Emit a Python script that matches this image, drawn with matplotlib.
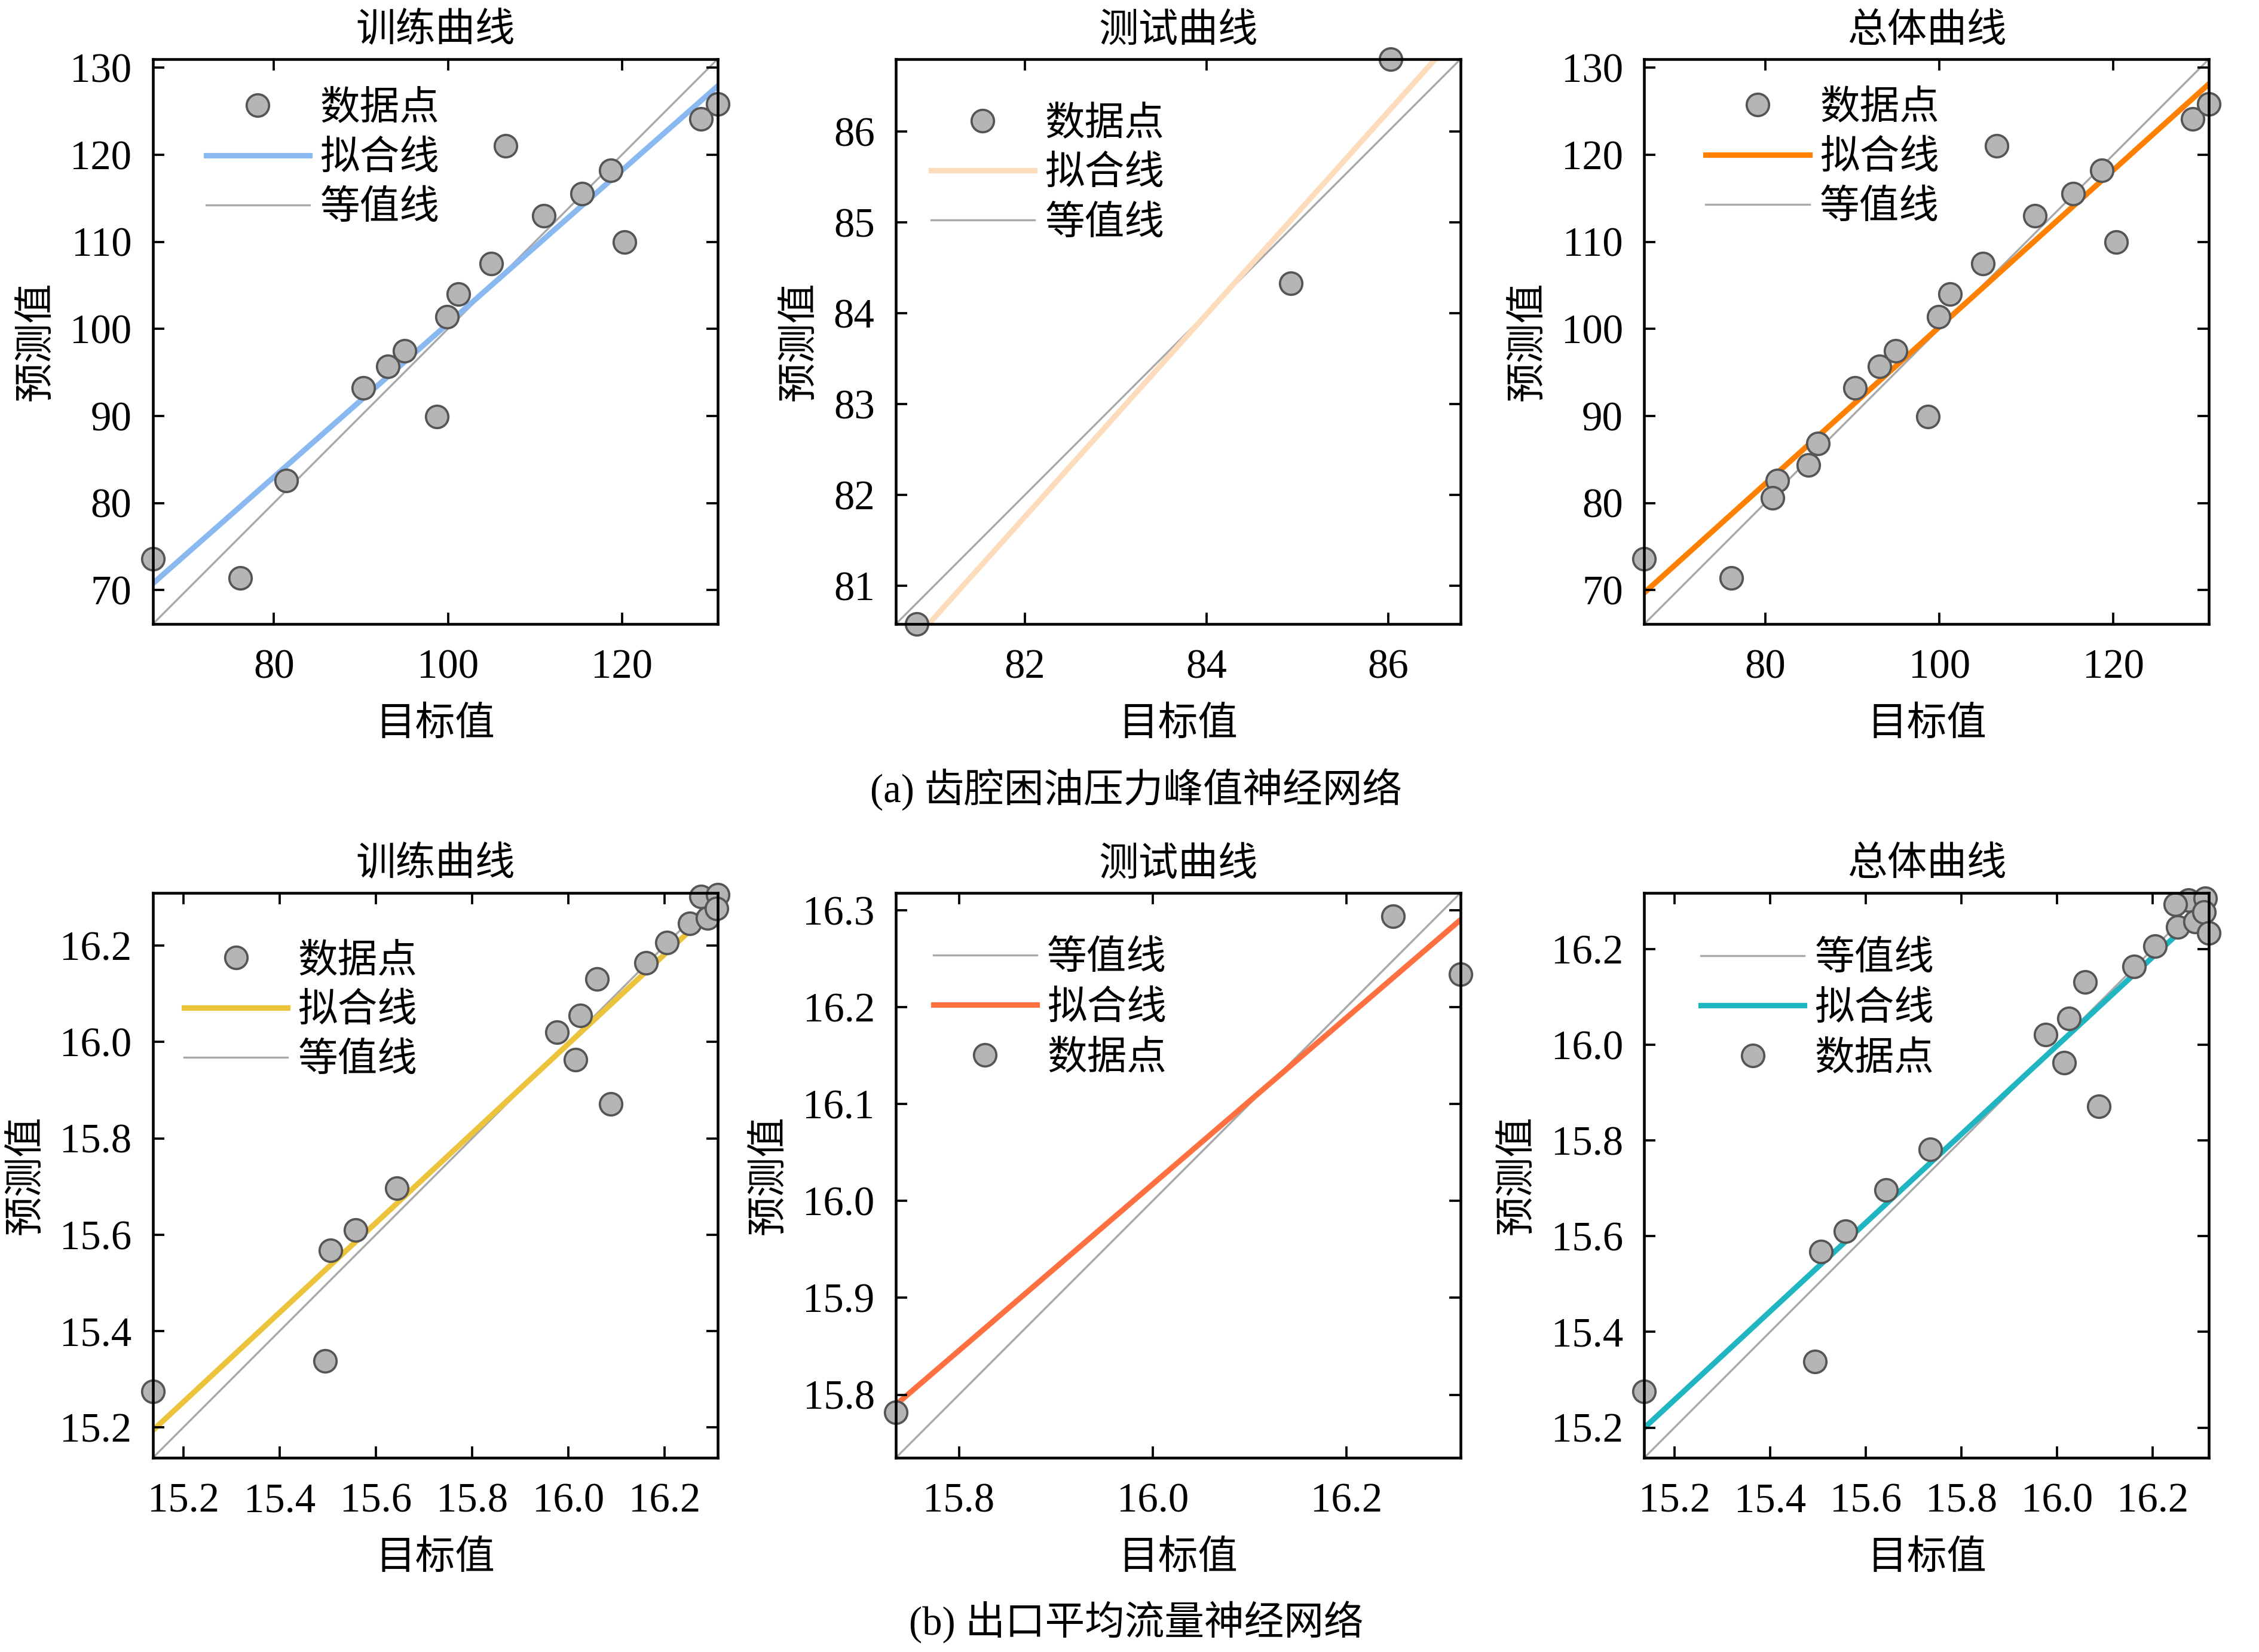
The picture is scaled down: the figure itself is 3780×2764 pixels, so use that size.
import numpy as np
import matplotlib
matplotlib.use('Agg')
import matplotlib.pyplot as plt
from matplotlib.ticker import FormatStrFormatter

plt.rcParams['font.family'] = ['Liberation Serif', 'Noto Sans CJK SC']
plt.rcParams['axes.unicode_minus'] = False

#--------------------------------------------------------------------
# Daten
#--------------------------------------------------------------------
# (a) Druckspitze: Training / Test
a_train_t = [66.1, 76.1, 81.4, 90.3, 93.1, 95.0, 98.7, 99.9, 101.2, 105.0,
             106.6, 111.0, 115.4, 118.7, 120.3, 129.1, 131.0]
a_train_y = [73.6, 71.4, 82.6, 93.2, 95.7, 97.5, 89.9, 101.4, 104.0, 107.5,
             121.0, 113.0, 115.5, 118.2, 110.0, 124.1, 125.8]
a_test_t = [80.81, 84.93, 86.03]
a_test_y = [80.58, 84.33, 86.80]

# (b) mittlerer Durchfluss: Training / Test
b_train_t = [15.137, 15.494, 15.506, 15.558, 15.643, 15.976, 16.015, 16.025,
             16.059, 16.088, 16.161, 16.205, 16.252, 16.289, 16.275, 16.310, 16.308]
b_train_y = [15.275, 15.338, 15.568, 15.610, 15.697, 16.021, 15.963, 16.055,
             16.131, 15.871, 16.164, 16.207, 16.246, 16.258, 16.302, 16.306, 16.277]
b_test_t = [15.735, 16.248, 16.318]
b_test_y = [15.782, 16.294, 16.234]

titles = ['训练曲线', '测试曲线', '总体曲线']
captions = ['(a) 齿腔困油压力峰值神经网络', '(b) 出口平均流量神经网络']
lbl_points, lbl_fit, lbl_eq = '数据点', '拟合线', '等值线'
xlabel, ylabel = '目标值', '预测值'

a_ticks_big = [80, 100, 120]
a_yticks_big = [70, 80, 90, 100, 110, 120, 130]
a_ticks_test = [82, 84, 86]
a_yticks_test = [81, 82, 83, 84, 85, 86]
b_ticks_big = [15.2, 15.4, 15.6, 15.8, 16.0, 16.2]
b_ticks_test = [15.8, 16.0, 16.2]
b_yticks_test = [15.8, 15.9, 16.0, 16.1, 16.2, 16.3]

fit_colors = [['#8ab8f0', '#fddcbc', '#ff8000'],
              ['#ebc43c', '#ff7040', '#1fb6c1']]

FS = 16       # Schrift fuer Beschriftungen
FS_TICK = 16.5


#--------------------------------------------------------------------
# Ein Regressionsdiagramm zeichnen (wie plotregression)
#--------------------------------------------------------------------
def plotRegression(ax, t, y, color, xticks, yticks, fmt, order, leg_xy, title):
  t = np.asarray(t)
  y = np.asarray(y)
  lim = [min(t.min(), y.min()), max(t.max(), y.max())]
  p = np.polyfit(t, y, 1)
  xx = np.array(lim)

  h_eq, = ax.plot(xx, xx, color='#a8a8a8', lw=0.8, zorder=1)
  h_fit, = ax.plot(xx, np.polyval(p, xx), color=color, lw=2.2, zorder=1.5)
  h_pt, = ax.plot(t, y, 'o', ms=9, mfc='#b5b5b5', mec='#555555', mew=0.9,
                  clip_on=False, zorder=2)

  ax.set_xlim(lim)
  ax.set_ylim(lim)
  ax.set_xticks(xticks)
  ax.set_yticks(yticks)
  if fmt:
    ax.xaxis.set_major_formatter(FormatStrFormatter(fmt))
    ax.yaxis.set_major_formatter(FormatStrFormatter(fmt))
  ax.tick_params(direction='in', top=True, right=True, length=4.5, width=0.9,
                 labelsize=FS_TICK)
  ax.tick_params(axis='x', pad=10)
  ax.tick_params(axis='y', pad=8.5)
  for s in ax.spines.values():
    s.set_linewidth(1.1)

  ax.set_xlabel(xlabel, fontsize=FS, labelpad=8)
  ax.set_ylabel(ylabel, fontsize=FS, labelpad=6)
  ax.set_title(title, fontsize=FS, pad=7)

  handles = {'pt': (h_pt, lbl_points), 'fit': (h_fit, lbl_fit), 'eq': (h_eq, lbl_eq)}
  hs = [handles[k][0] for k in order]
  ls = [handles[k][1] for k in order]
  ax.legend(hs, ls, loc='upper left', bbox_to_anchor=leg_xy, frameon=False,
            fontsize=FS, numpoints=1, handlelength=2.6, handletextpad=0.26,
            labelspacing=0.33, borderpad=0, borderaxespad=0)


#--------------------------------------------------------------------
# Hauptprogramm
#--------------------------------------------------------------------
fig = plt.figure(figsize=(12.6, 2764 / 300.0), dpi=300)

lefts = [0.0677, 0.3966, 0.7279]
bottoms = [0.6223, 0.1176]
W, H = 0.2500, 0.3420

a_all_t = a_train_t + a_test_t
a_all_y = a_train_y + a_test_y
b_all_t = b_train_t + b_test_t
b_all_y = b_train_y + b_test_y

panels = [
  # Zeile (a)
  [(a_train_t, a_train_y, a_ticks_big, a_yticks_big, None, ['pt', 'fit', 'eq'], (0.094, 0.944)),
   (a_test_t, a_test_y, a_ticks_test, a_yticks_test, None, ['pt', 'fit', 'eq'], (0.062, 0.917)),
   (a_all_t, a_all_y, a_ticks_big, a_yticks_big, None, ['pt', 'fit', 'eq'], (0.109, 0.945))],
  # Zeile (b)
  [(b_train_t, b_train_y, b_ticks_big, b_ticks_big, '%.1f', ['pt', 'fit', 'eq'], (0.055, 0.911)),
   (b_test_t, b_test_y, b_ticks_test, b_yticks_test, '%.1f', ['eq', 'fit', 'pt'], (0.066, 0.915)),
   (b_all_t, b_all_y, b_ticks_big, b_ticks_big, '%.1f', ['eq', 'fit', 'pt'], (0.100, 0.914))],
]

for r in range(2):
  for c in range(3):
    ax = fig.add_axes([lefts[c], bottoms[r], W, H])
    t, y, xt, yt, fmt, order, lxy = panels[r][c]
    plotRegression(ax, t, y, fit_colors[r][c], xt, yt, fmt, order, lxy, titles[c])

fig.text(0.503, 0.522, captions[0], ha='center', va='center', fontsize=FS)
fig.text(0.503, 0.018, captions[1], ha='center', va='center', fontsize=FS)

fig.savefig('out.png', dpi=300, facecolor='white')
